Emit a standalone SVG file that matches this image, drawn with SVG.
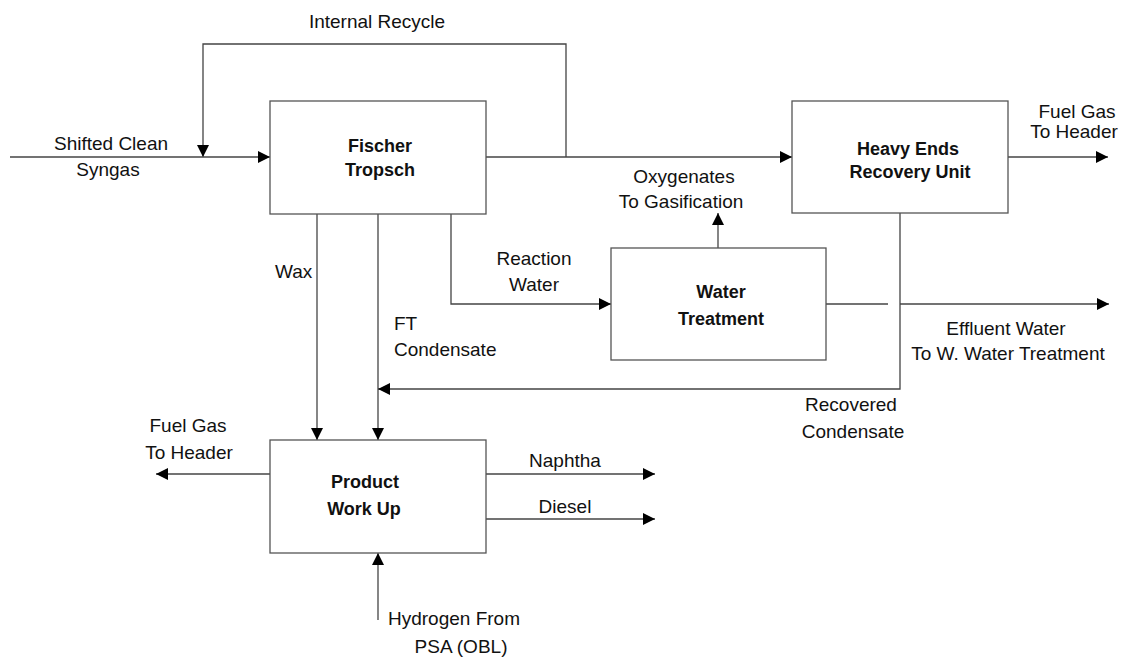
<svg xmlns="http://www.w3.org/2000/svg" width="1123" height="661" viewBox="0 0 1123 661">
<style>
.box{fill:#fff;stroke:#555;stroke-width:1.3}
.ln{fill:none;stroke:#444;stroke-width:1.3}
.t{font-family:"Liberation Sans",Arial,sans-serif;font-size:19px;fill:#111;text-anchor:middle}
.b{font-family:"Liberation Sans",Arial,sans-serif;font-size:18px;font-weight:bold;fill:#111;text-anchor:middle}
.s{text-anchor:start}
</style>
<defs>
<marker id="ar" markerUnits="userSpaceOnUse" markerWidth="13" markerHeight="12" refX="12" refY="6" orient="auto">
<path d="M0,0 L12,6 L0,12 z" fill="#000"/>
</marker>
</defs>
<rect width="1123" height="661" fill="#fff"/>
<g id="connectors">
<path class="ln" d="M566,157 V44 H203 V157" marker-end="url(#ar)"/>
<path class="ln" d="M10,157 H270" marker-end="url(#ar)"/>
<path class="ln" d="M486,157 H792" marker-end="url(#ar)"/>
<path class="ln" d="M1008,157 H1108" marker-end="url(#ar)"/>
<path class="ln" d="M317,214 V440" marker-end="url(#ar)"/>
<path class="ln" d="M378,214 V440" marker-end="url(#ar)"/>
<path class="ln" d="M451,214 V304 H611" marker-end="url(#ar)"/>
<path class="ln" d="M718,248 V213" marker-end="url(#ar)"/>
<path class="ln" d="M826,304 H888"/>
<path class="ln" d="M900,304 H1109" marker-end="url(#ar)"/>
<path class="ln" d="M900,213 V389 H378" marker-end="url(#ar)"/>
<path class="ln" d="M270,474 H156" marker-end="url(#ar)"/>
<path class="ln" d="M486,474 H655" marker-end="url(#ar)"/>
<path class="ln" d="M486,519 H655" marker-end="url(#ar)"/>
<path class="ln" d="M378,620 V553" marker-end="url(#ar)"/>
</g>
<g id="labels">
<text class="t" x="377" y="28">Internal Recycle</text>
<text class="t" x="111" y="150">Shifted Clean</text>
<text class="t" x="108" y="176">Syngas</text>
<text class="t" x="1077" y="118">Fuel Gas</text>
<text class="t" x="1074" y="138">To Header</text>
<text class="t" x="684" y="183">Oxygenates</text>
<text class="t" x="681" y="208">To Gasification</text>
<text class="t" x="534" y="265">Reaction</text>
<text class="t" x="534" y="291">Water</text>
<text class="t s" x="275" y="278">Wax</text>
<text class="t s" x="394" y="330">FT</text>
<text class="t s" x="394" y="356">Condensate</text>
<text class="t" x="1006" y="335">Effluent Water</text>
<text class="t" x="1008" y="360">To W. Water Treatment</text>
<text class="t" x="851" y="411">Recovered</text>
<text class="t" x="853" y="438">Condensate</text>
<text class="t" x="188" y="432">Fuel Gas</text>
<text class="t" x="189" y="459">To Header</text>
<text class="t" x="565" y="467">Naphtha</text>
<text class="t" x="565" y="513">Diesel</text>
<text class="t" x="454" y="625">Hydrogen From</text>
<text class="t" x="461" y="653">PSA (OBL)</text>
</g>
<g id="fischer-tropsch">
<rect class="box" x="270" y="101" width="216" height="113"/>
<text class="b" x="380" y="152">Fischer</text>
<text class="b" x="380" y="176">Tropsch</text>
</g>
<g id="heavy-ends">
<rect class="box" x="792" y="101" width="216" height="112"/>
<text class="b" x="908" y="155">Heavy Ends</text>
<text class="b" x="910" y="178">Recovery Unit</text>
</g>
<g id="water-treatment">
<rect class="box" x="611" y="248" width="215" height="112"/>
<text class="b" x="721" y="298">Water</text>
<text class="b" x="721" y="325">Treatment</text>
</g>
<g id="product-work-up">
<rect class="box" x="270" y="440" width="216" height="113"/>
<text class="b" x="365" y="488">Product</text>
<text class="b" x="364" y="515">Work Up</text>
</g>
</svg>
